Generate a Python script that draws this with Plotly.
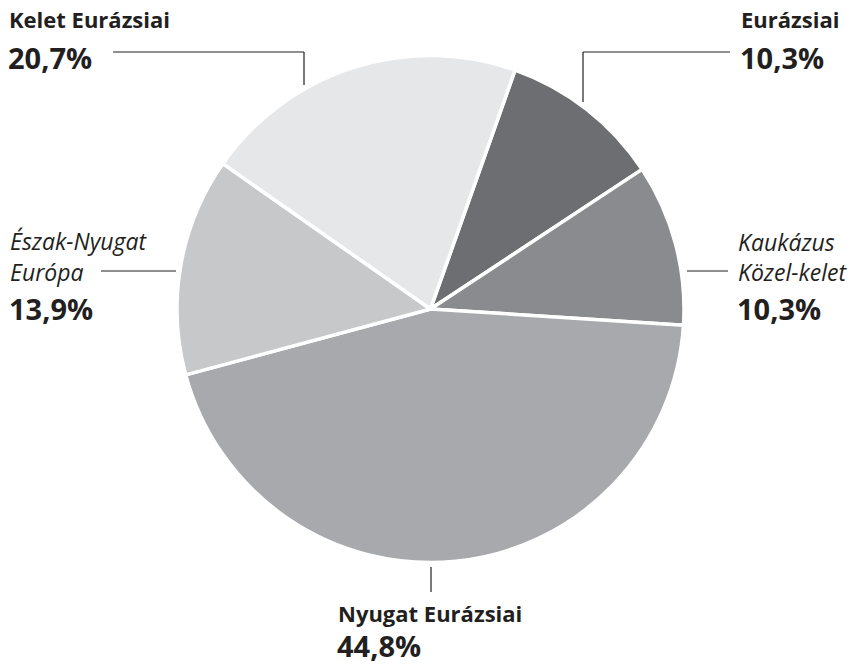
import plotly.graph_objects as go

W, H = 855, 666

regions = ["Eurázsiai", "Kaukázus Közel-kelet", "Nyugat Eurázsiai", "Észak-Nyugat Európa", "Kelet Eurázsiai"]
shares = [10.3, 10.3, 44.8, 13.9, 20.7]
colors = ["#6d6e71", "#8a8b8e", "#a7a9ac", "#c7c8ca", "#e6e7e8"]

def fx(px):
    return px / W

def fy(py):
    return 1 - py / H

# pie geometry (pixels)
cx, cy, r = 430.5, 309, 253.5

fig = go.Figure(go.Pie(
    labels=regions, values=shares, sort=False, direction="clockwise", rotation=19.5,
    marker=dict(colors=colors, line=dict(color="white", width=3.5)),
    textinfo="none", hoverinfo="label+percent", showlegend=False,
    domain=dict(x=[fx(cx - r), fx(cx + r)], y=[fy(cy + r), fy(cy - r)]),
))

TXT = "#231f20"
FONT = "Open Sans"

def fmt(v):
    return f"{v:.1f}".replace(".", ",") + "%"

# label blocks: (name lines, italic?, x px, name line centers, pct center, value)
blocks = [
    (["Kelet Eurázsiai"], False, 7, [19], 57, shares[4]),
    (["Eurázsiai"], False, 739, [19], 57, shares[0]),
    (["Észak-Nyugat", "Európa"], True, 8, [241, 272], 308, shares[3]),
    (["Kaukázus", "Közel-kelet"], True, 736, [242, 272], 308, shares[1]),
    (["Nyugat Eurázsiai"], False, 336, [613], 645, shares[2]),
]

anns = []
for names, italic, x, ys, py, val in blocks:
    for name, y in zip(names, ys):
        anns.append(dict(
            x=fx(x), y=fy(y), xref="paper", yref="paper", xanchor="left", yanchor="middle",
            text=(f"<i>{name}</i>" if italic else f"<b>{name}</b>"), showarrow=False,
            font=dict(family=FONT, size=23 if italic else 22, color=TXT),
        ))
    anns.append(dict(
        x=fx(x), y=fy(py), xref="paper", yref="paper", xanchor="left", yanchor="middle",
        text=f"<b>{fmt(val)}</b>", showarrow=False, borderpad=0,
        font=dict(family=FONT, size=29, color=TXT),
    ))

leaders = [
    ((113, 52), (304, 52)), ((304, 52), (304, 85)),
    ((583, 52), (730, 52)), ((583, 52), (583, 102)),
    ((101, 271), (176, 271)),
    ((687, 271), (728, 271)),
    ((431, 567), (431, 592)),
]
shapes = [dict(type="line", xref="paper", yref="paper", x0=fx(a[0]), y0=fy(a[1]), x1=fx(b[0]), y1=fy(b[1]),
               line=dict(color=TXT, width=1.2)) for a, b in leaders]

fig.update_layout(
    width=W, height=H, margin=dict(l=0, r=0, t=0, b=0),
    paper_bgcolor="white", plot_bgcolor="white",
    annotations=anns, shapes=shapes,
)

fig.write_html("out.html")
